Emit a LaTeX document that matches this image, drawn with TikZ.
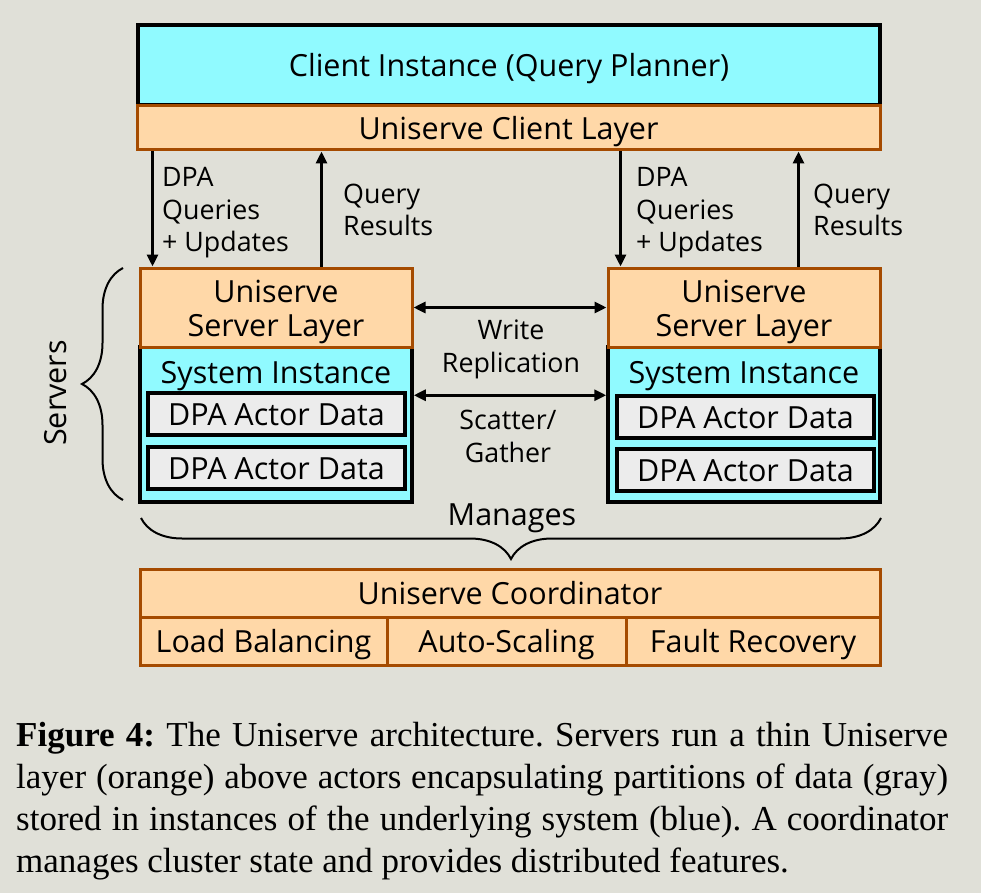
\documentclass[tikz,border=0pt]{standalone}
\usepackage{fontspec}
\setmainfont{Liberation Serif}
\newfontfamily\osans{Open Sans}
\usetikzlibrary{arrows.meta,decorations.pathreplacing}
\definecolor{bgc}{RGB}{224,224,216}
\definecolor{cyanf}{RGB}{144,250,255}
\definecolor{orf}{RGB}{255,216,168}
\definecolor{ord}{RGB}{165,75,0}
\definecolor{dpaf}{RGB}{236,236,236}
\frenchspacing
\newcommand\tstr{\rule{0pt}{1.069em}}
\newcommand\bstr{\rule[-0.293em]{0pt}{0.293em}}
\begin{document}
\begin{tikzpicture}[x=1pt,y=-1pt,
  box/.style={draw, line width=3.5pt, inner sep=0pt, font=\osans\fontsize{30.5}{34}\selectfont, align=center, text=black},
  cyanbox/.style={box, fill=cyanf, draw=black},
  orbox/.style={box, fill=orf, draw=ord, line width=3pt},
  dpabox/.style={box, fill=dpaf, draw=black},
  lbl/.style={font=\osans\fontsize{26.8}{32.5}\selectfont, align=left, inner sep=0pt, anchor=west},
  mlbl/.style={font=\osans\fontsize{26.8}{32.5}\selectfont, align=center, inner sep=0pt},
  txt/.style={font=\osans\fontsize{30.5}{34}\selectfont, align=center, inner sep=0pt},
  arr/.style={line width=3pt, -{Triangle[length=12pt,width=11pt]}},
  darr/.style={line width=3pt, {Triangle[length=12pt,width=11pt]}-{Triangle[length=12pt,width=11pt]}},
  brc/.style={decorate, decoration={brace, amplitude=41pt}, line width=2pt},
  capline/.style={font=\fontsize{35}{42}\selectfont, anchor=base west, inner sep=0pt}
]
\useasboundingbox[fill=bgc] (0,0) rectangle (981,893);

% client
\node[cyanbox, minimum width=742pt, minimum height=80pt] (client) at (509,65) {\tstr Client Instance (Query Planner)\bstr};
\node[orbox, minimum width=743pt, minimum height=44pt] (clayer) at (508.5,128) {\tstr Uniserve Client Layer\bstr};

% left server
\node[cyanbox, minimum width=272pt, minimum height=155pt] (sysL) at (276,424.5) {};
\node[orbox, minimum width=272pt, minimum height=79pt] (srvL) at (276,307.5) {\tstr Uniserve\\Server Layer\bstr};
\node[txt] (sysLt) at (276,372) {\tstr System Instance\bstr};
\node[dpabox, minimum width=257pt, minimum height=40pt] (dpaL1) at (276.5,414) {\tstr DPA Actor Data\bstr};
\node[dpabox, minimum width=257pt, minimum height=42pt] (dpaL2) at (276.5,468) {\tstr DPA Actor Data\bstr};

% right server
\node[cyanbox, minimum width=272pt, minimum height=155pt] (sysR) at (744,424.5) {};
\node[orbox, minimum width=272pt, minimum height=79pt] (srvR) at (744,307.5) {\tstr Uniserve\\Server Layer\bstr};
\node[txt] (sysRt) at (744,372) {\tstr System Instance\bstr};
\node[dpabox, minimum width=257pt, minimum height=40pt] (dpaR1) at (745.5,417) {\tstr DPA Actor Data\bstr};
\node[dpabox, minimum width=257pt, minimum height=42pt] (dpaR2) at (745.5,470) {\tstr DPA Actor Data\bstr};

% client <-> server arrows
\draw[arr] ([xshift=14pt]srvL.north west |- clayer.south) -- ([xshift=14pt]srvL.north west);
\draw[arr] ([xshift=183pt]srvL.north west) -- ([xshift=183pt]srvL.north west |- clayer.south);
\draw[arr] ([xshift=14pt]srvR.north west |- clayer.south) -- ([xshift=14pt]srvR.north west);
\draw[arr] ([xshift=192pt]srvR.north west) -- ([xshift=192pt]srvR.north west |- clayer.south);

\node[lbl] (dqL) at (162,213) {DPA\\Queries\\+ Updates};
\node[lbl] (qrL) at (343,210) {Query\\Results};
\node[lbl] (dqR) at (636,213) {DPA\\Queries\\+ Updates};
\node[lbl] (qrR) at (813,210) {Query\\Results};

% server <-> server
\draw[darr] (srvL.east) -- (srvL.east -| srvR.west);
\draw[darr] ([yshift=-50pt]sysL.north east) -- ([yshift=-50pt]sysR.north west);
\node[mlbl] (wr) at (511,349.5) {Write\\Replication};
\node[mlbl] (sg) at (508,436.5) {Scatter/\\Gather};

% servers brace
\coordinate (sb1) at (123,500);
\coordinate (sb2) at (123,268);
\draw[brc] (sb1) -- (sb2);
\node[txt, rotate=90] (servers) at (55,393) {\tstr Servers\bstr};

% coordinator
\node[orbox, minimum width=740pt, minimum height=48pt] (coord) at (510,593) {\tstr Uniserve Coordinator\bstr};
\node[orbox, minimum width=247pt, minimum height=48pt] (lb) at (263.5,641) {\tstr Load Balancing\bstr};
\node[orbox, minimum width=239pt, minimum height=48pt] (as) at (506.5,641) {\tstr Auto-Scaling\bstr};
\node[orbox, minimum width=254pt, minimum height=48pt] (fr) at (753,641) {\tstr Fault Recovery\bstr};

% manages brace
\coordinate (mb1) at (881,518);
\coordinate (mb2) at (141,518);
\draw[brc] (mb1) -- (mb2);
\node[txt] (manages) at (512,514) {\tstr Manages\bstr};

% caption
\node[capline] (c1) at (16,746) {\makebox[932pt][s]{\textbf{Figure 4:} The Uniserve architecture. Servers run a thin Uniserve}};
\node[capline] (c2) at (16,788) {\makebox[932pt][s]{layer (orange) above actors encapsulating partitions of data (gray)}};
\node[capline] (c3) at (16,830) {\makebox[932pt][s]{stored in instances of the underlying system (blue). A coordinator}};
\node[capline] (c4) at (16,872) {manages cluster state and provides distributed features.};
\end{tikzpicture}
\end{document}
